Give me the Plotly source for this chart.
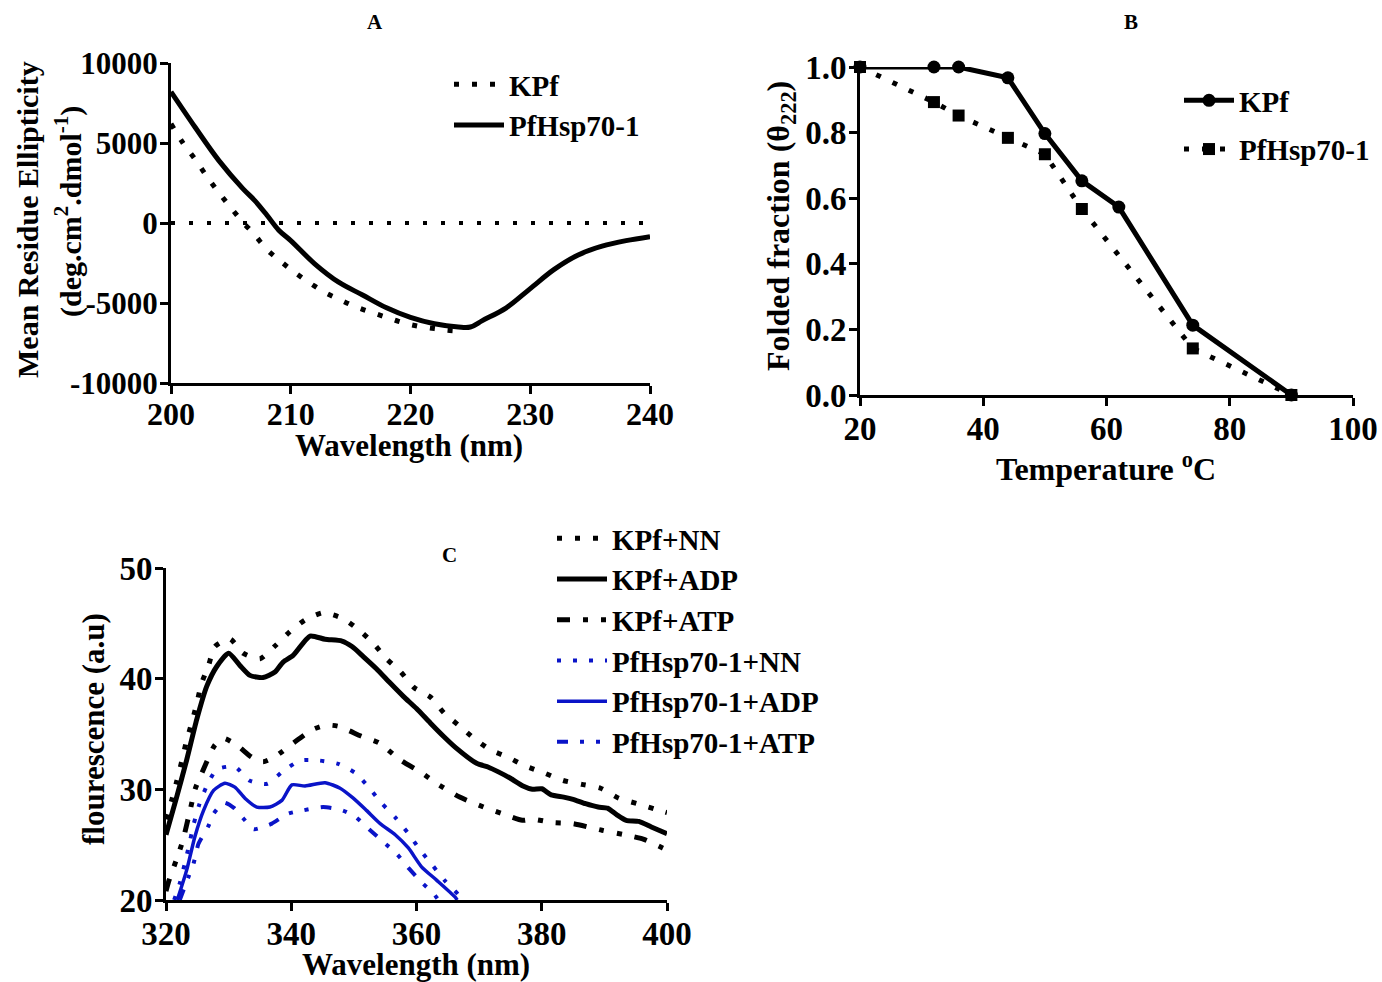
import plotly.graph_objects as go

# ---------------- Panel A: CD spectra ----------------
cd_wl_pf = [200, 202, 204, 206, 207, 208, 209, 210, 212, 214, 216, 218, 220, 222, 224, 225,
            226, 228, 230, 232, 234, 236, 238, 240]
cd_pfhsp = [8200, 6000, 3900, 2150, 1400, 500, -450, -1100, -2550, -3700, -4500, -5300, -5900,
            -6300, -6500, -6500, -6100, -5300, -4100, -2900, -2000, -1450, -1100, -850]
cd_wl_kpf = [200, 201, 202, 203, 204, 205, 206, 207, 208, 209, 210, 211, 212, 213, 214, 215,
             216, 217, 218, 219, 220, 221, 222, 223, 224]
cd_kpf = [6200, 5000, 4000, 2900, 1900, 950, 50, -750, -1650, -2300, -2900, -3450, -3950, -4400,
          -4750, -5100, -5400, -5650, -5900, -6150, -6350, -6500, -6600, -6700, -6750]
cd_base_x = [200, 240]
cd_base_y = [0, 0]
cd_yticks = [-10000, -5000, 0, 5000, 10000]
cd_ytick_labels = ["-10000", "-5000", "0", "5000", "10000"]
cd_xticks = [200, 210, 220, 230, 240]

# ---------------- Panel B: thermal unfolding ----------------
temp_kpf = [20, 32, 36, 44, 50, 56, 62, 74, 90]
frac_kpf = [1.0, 1.0, 1.0, 0.967, 0.797, 0.653, 0.573, 0.213, 0.0]
temp_pf = [20, 32, 36, 44, 50, 56, 74, 90]
frac_pf = [1.0, 0.893, 0.852, 0.784, 0.734, 0.567, 0.142, 0.0]
temp_ticks = [20, 40, 60, 80, 100]
frac_ticks = [0.0, 0.2, 0.4, 0.6, 0.8, 1.0]

# ---------------- Panel C: fluorescence ----------------
kpf_nn_x = [320.0, 320.9, 321.7, 322.5, 323.2, 324.1, 324.8, 325.7, 326.8, 327.8, 330.2, 332.3,
            335.0, 337.4, 339.7, 342.2, 345.1, 348.2, 350.8, 353.1, 355.2, 357.5, 359.6, 362.3,
            364.4, 366.8, 369.2, 371.7, 374.6, 377.4, 380.3, 383.4, 386.4, 389.4, 392.3, 395.3,
            398.2, 400.0]
kpf_nn_y = [27.3, 29.0, 30.7, 32.5, 34.2, 36.0, 37.5, 39.6, 41.2, 42.9, 43.6, 42.3, 41.8, 42.95,
            44.2, 45.3, 45.96, 45.45, 44.4, 43.2, 41.8, 40.6, 39.2, 38.3, 36.9, 35.75, 34.6, 33.6,
            32.9, 32.1, 31.5, 30.8, 30.45, 30.1, 29.2, 28.7, 28.2, 27.9]
kpf_adp_x = [320.0, 321.7, 323.3, 324.9, 326.5, 328.1, 330.0, 331.8, 333.4, 335.5, 337.4, 338.7,
             340.3, 343.0, 345.4, 348.1, 349.7, 351.5, 353.6, 355.8, 357.9, 360.0, 362.2, 364.3,
             366.4, 369.6, 371.5, 373.0, 375.0, 377.0, 378.5, 380.0, 381.5, 383.5, 385.0, 387.0,
             389.0, 390.5, 392.0, 393.5, 395.5, 397.5, 400.0]
kpf_adp_y = [25.9, 29.3, 32.65, 36.3, 39.3, 41.1, 42.3, 41.2, 40.3, 40.1, 40.6, 41.5, 42.1, 43.85,
             43.56, 43.4, 42.9, 42.0, 40.9, 39.6, 38.4, 37.3, 36.0, 34.8, 33.7, 32.35, 32.0, 31.6,
             31.0, 30.3, 30.0, 30.05, 29.5, 29.3, 29.1, 28.7, 28.4, 28.3, 27.7, 27.2, 27.1, 26.6,
             26.0]
kpf_atp_x = [320.0, 320.5, 321.7, 322.7, 323.8, 324.7, 325.9, 327.8, 329.2, 331.3, 333.7, 335.5,
             337.4, 340.6, 343.4, 345.5, 347.5, 351.2, 354.0, 357.3, 360.8, 363.3, 366.9, 370.7,
             373.7, 376.9, 378.5, 381.8, 385.0, 389.6, 393.2, 396.2, 399.3, 400.0]
kpf_atp_y = [20.8, 21.8, 23.7, 25.4, 28.0, 30.1, 31.7, 34.0, 34.6, 34.0, 32.9, 32.5, 32.95, 34.3,
             35.4, 35.8, 35.7, 34.8, 34.2, 32.7, 31.5, 30.5, 29.3, 28.4, 27.8, 27.2, 27.3, 27.0,
             26.9, 26.3, 25.9, 25.5, 24.7, 24.5]
pf_nn_x = [321.3, 322.2, 323.0, 323.7, 324.4, 325.3, 326.5, 328.1, 331.0, 333.3, 336.2, 338.6,
           341.4, 344.5, 347.5, 350.3, 352.5, 354.5, 356.7, 358.7, 360.6, 362.6, 364.6, 366.7,
           367.0]
pf_nn_y = [20.0, 21.5, 23.3, 25.0, 26.8, 28.6, 30.3, 31.8, 32.05, 30.8, 30.5, 31.6, 32.6, 32.6,
           32.3, 31.45, 30.1, 28.7, 27.4, 26.0, 24.5, 23.1, 21.7, 20.45, 20.0]
pf_adp_x = [321.8, 323.3, 324.6, 326.0, 327.6, 329.4, 331.0, 332.6, 334.5, 336.6, 338.5, 340.1,
            342.2, 345.4, 347.8, 349.9, 352.0, 354.2, 356.6, 358.7, 360.8, 363.2, 366.1, 366.5]
pf_adp_y = [20.0, 22.7, 25.7, 28.1, 29.9, 30.55, 30.2, 29.2, 28.4, 28.4, 29.0, 30.4, 30.3, 30.6,
            30.1, 29.2, 28.1, 26.9, 25.9, 24.7, 23.0, 21.8, 20.3, 20.0]
pf_atp_x = [322.2, 323.6, 324.4, 325.2, 326.7, 327.6, 329.3, 330.9, 332.3, 334.0, 336.0, 336.9,
            339.5, 341.9, 345.1, 348.2, 350.3, 352.6, 355.0, 356.8, 358.7, 361.0, 362.7, 363.5]
pf_atp_y = [20.0, 22.1, 23.3, 25.1, 26.6, 27.8, 28.8, 28.3, 27.4, 26.4, 26.7, 26.9, 27.8, 28.1,
            28.4, 28.1, 27.5, 26.3, 25.1, 24.2, 22.9, 21.5, 20.6, 20.0]
fl_xticks = [320, 340, 360, 380, 400]
fl_yticks = [20, 30, 40, 50]

FONT = "Liberation Serif"
BLUE = "#0a14c8"
DOT = "5px,13px"
DOTB = "4px,12px"
DASHDOT = "13px,13px,5px,13px,5px,13px"

fig = go.Figure()

# Panel A
fig.add_trace(go.Scatter(x=cd_base_x, y=cd_base_y, mode="lines", showlegend=False,
                         line=dict(color="black", width=4, dash="4px,14px"),
                         xaxis="x", yaxis="y", hoverinfo="skip"))
fig.add_trace(go.Scatter(x=cd_wl_kpf, y=cd_kpf, mode="lines", name="KPf",
                         line=dict(color="black", width=5, dash=DOT, shape="spline"),
                         xaxis="x", yaxis="y", legend="legend"))
fig.add_trace(go.Scatter(x=cd_wl_pf, y=cd_pfhsp, mode="lines", name="PfHsp70-1",
                         line=dict(color="black", width=5, shape="spline"),
                         xaxis="x", yaxis="y", legend="legend"))

# Panel B
fig.add_trace(go.Scatter(x=temp_kpf, y=frac_kpf, mode="lines+markers", name="KPf",
                         line=dict(color="black", width=5),
                         marker=dict(symbol="circle", size=13, color="black"),
                         cliponaxis=False, xaxis="x2", yaxis="y2", legend="legend2",
                         legendgroup="b1"))
fig.add_trace(go.Scatter(x=temp_pf, y=frac_pf, mode="lines+markers", name="PfHsp70-1",
                         line=dict(color="black", width=5, dash=DOT),
                         marker=dict(symbol="square", size=12, color="black"),
                         cliponaxis=False, xaxis="x2", yaxis="y2", legend="legend2",
                         legendgroup="b2"))

# Panel C
series_c = [
    ("KPf+NN", kpf_nn_x, kpf_nn_y, "black", 5, DOT),
    ("KPf+ADP", kpf_adp_x, kpf_adp_y, "black", 5, "solid"),
    ("KPf+ATP", kpf_atp_x, kpf_atp_y, "black", 5, DASHDOT),
    ("PfHsp70-1+NN", pf_nn_x, pf_nn_y, BLUE, 4, DOTB),
    ("PfHsp70-1+ADP", pf_adp_x, pf_adp_y, BLUE, 3.5, "solid"),
    ("PfHsp70-1+ATP", pf_atp_x, pf_atp_y, BLUE, 4, "11px,12px,4px,12px,4px,12px"),
]
for name, xs, ys, col, w, dash in series_c:
    fig.add_trace(go.Scatter(x=xs, y=ys, mode="lines", name=name,
                             line=dict(color=col, width=w, dash=dash, shape="spline", smoothing=0.6),
                             xaxis="x3", yaxis="y3", legend="legend3"))

W, H = 1382, 982


def px_x(p):
    return p / W


def px_y(p):
    return 1 - p / H


def tfont(size):
    return dict(family=FONT, size=size, color="black", weight="bold")


axis_common = dict(showgrid=False, zeroline=False, showline=True, linecolor="black",
                   linewidth=3, ticks="outside", ticklen=8, tickwidth=3, tickcolor="black",
                   mirror=False, automargin=False)

fig.update_layout(
    width=W, height=H,
    margin=dict(l=0, r=0, t=0, b=0),
    paper_bgcolor="white", plot_bgcolor="white",
    xaxis=dict(axis_common, domain=[px_x(171), px_x(650)], range=[200, 240],
               tickvals=cd_xticks, anchor="y", tickfont=tfont(32), ticklabelstandoff=-7),
    yaxis=dict(axis_common, domain=[px_y(383), px_y(63)], range=[-10000, 10000],
               tickvals=cd_yticks, ticktext=cd_ytick_labels, anchor="x",
               tickfont=tfont(31), ticklabelstandoff=-4),
    xaxis2=dict(axis_common, domain=[px_x(860), px_x(1353)], range=[20, 100],
                tickvals=temp_ticks, anchor="y2", tickfont=tfont(33), ticklabelstandoff=-6),
    yaxis2=dict(axis_common, domain=[px_y(395), px_y(67)], range=[0, 1],
                tickvals=frac_ticks, tickformat=".1f", anchor="x2",
                tickfont=tfont(33), ticklabelstandoff=-4),
    xaxis3=dict(axis_common, domain=[px_x(166), px_x(667)], range=[320, 400],
                tickvals=fl_xticks, anchor="y3", tickfont=tfont(33), ticklabelstandoff=-6),
    yaxis3=dict(axis_common, domain=[px_y(900), px_y(568)], range=[20, 50],
                tickvals=fl_yticks, anchor="x3", tickfont=tfont(33), ticklabelstandoff=-4),
    legend=dict(x=px_x(449), y=px_y(59), xanchor="left", yanchor="top",
                bgcolor="rgba(0,0,0,0)", itemwidth=50, font=tfont(29)),
    legend2=dict(x=px_x(1179), y=px_y(75), xanchor="left", yanchor="top",
                 bgcolor="rgba(0,0,0,0)", traceorder="grouped", tracegroupgap=8,
                 itemwidth=50, font=tfont(29)),
    legend3=dict(x=px_x(552), y=px_y(513), xanchor="left", yanchor="top",
                 bgcolor="rgba(0,0,0,0)", itemwidth=50, font=tfont(29)),
)

annots = [
    dict(text="A", x=px_x(375), y=px_y(22), size=21, angle=0),
    dict(text="B", x=px_x(1131), y=px_y(22), size=21, angle=0),
    dict(text="C", x=px_x(449), y=px_y(555), size=21, angle=0),
    dict(text="Wavelength (nm)", x=px_x(409), y=px_y(445), size=31, angle=0),
    dict(text="Mean Residue Ellipticity", x=px_x(27), y=px_y(220), size=30, angle=-90),
    dict(text="(deg.cm<sup>2</sup>.dmol<sup>-1</sup>)", x=px_x(68), y=px_y(212), size=30, angle=-90),
    dict(text="Temperature <sup>o</sup>C", x=px_x(1106), y=px_y(467), size=32, angle=0),
    dict(text="Folded fraction (\u03b8<sub>222</sub>)", x=px_x(780), y=px_y(226), size=32, angle=-90),
    dict(text="Wavelength (nm)", x=px_x(416), y=px_y(964), size=31, angle=0),
    dict(text="flourescence (a.u)", x=px_x(93), y=px_y(729), size=31, angle=-90),
]
for a in annots:
    fig.add_annotation(text=a["text"], x=a["x"], y=a["y"], xref="paper", yref="paper",
                       xanchor="center", yanchor="middle", showarrow=False,
                       textangle=a["angle"], font=tfont(a["size"]))

# Remove the default 8px page margin so the 1382x982 figure fills the window exactly,
# and hide the modebar so it does not cover panel B.
fig.write_html("out.html",
               config={"displayModeBar": False},
               post_script="document.body.style.margin='0px';"
                           "document.body.style.padding='0px';"
                           "document.documentElement.style.overflow='hidden';")
